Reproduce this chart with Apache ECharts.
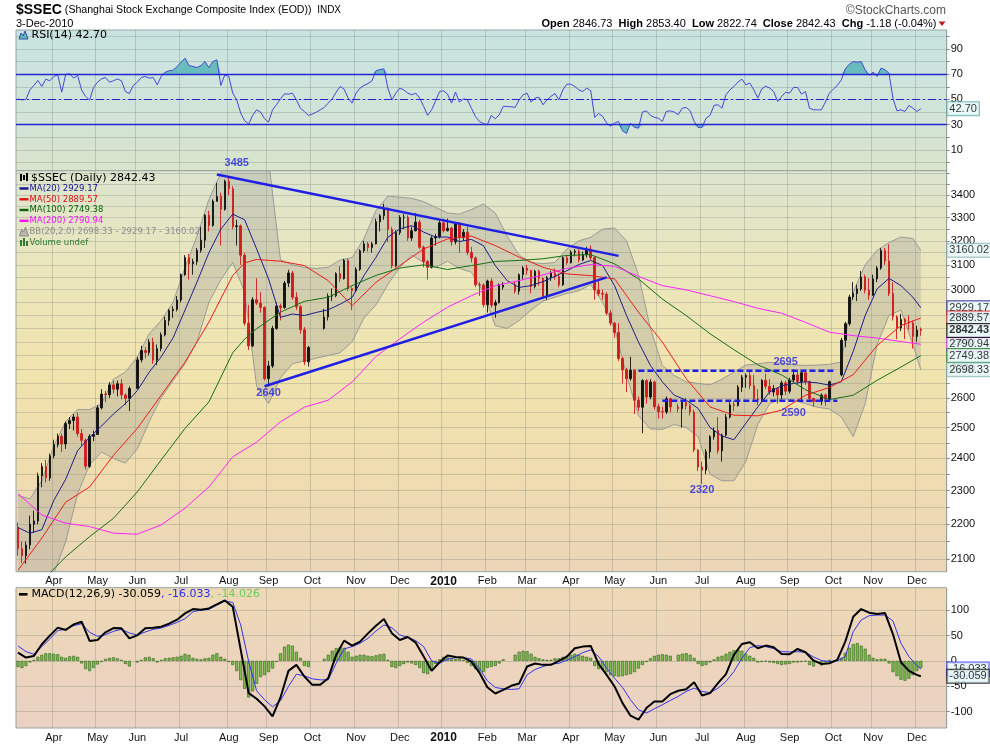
<!DOCTYPE html>
<html>
<head>
<meta charset="utf-8">
<title>$SSEC</title>
<script src="https://cdn.jsdelivr.net/npm/echarts@6/dist/echarts.min.js"></script>
<style>
  html, body { margin: 0; padding: 0; background: #fff; }
  #chart { width: 990px; height: 744px; }
</style>
</head>
<body>
<div id="chart"></div>
<script>
// x axis: one slot = two weekdays, Mar 9 2009 .. Dec 3 2010 (+ blank slots on the right)
const binCount = 234;
const monthBins = [9, 20, 30, 41, 53, 63, 74, 85, 96, 107, 118, 128, 139, 150, 161, 172, 183, 194, 205, 215, 226];
const monthNames = ["Apr", "May", "Jun", "Jul", "Aug", "Sep", "Oct", "Nov", "Dec", "2010", "Feb", "Mar", "Apr", "May", "Jun", "Jul", "Aug", "Sep", "Oct", "Nov", "Dec"];

const priceTicks = [2100, 2200, 2300, 2400, 2500, 2600, 2700, 2800, 2900, 3000, 3100, 3200, 3300, 3400];
const priceGridLines = [2100, 2150, 2200, 2250, 2300, 2350, 2400, 2450, 2500, 2550, 2600, 2650, 2700, 2750, 2800, 2850, 2900, 2950, 3000, 3050, 3100, 3150, 3200, 3250, 3300, 3350, 3400, 3450, 3500];
const rsiTicks = [10, 30, 50, 70, 90];
const rsiGridLines = [0, 10, 20, 30, 40, 50, 60, 70, 80, 90, 100];
const macdTicks = [-100, -50, 0, 50, 100];

// [open, close, low, high], null = holiday slot
const candles = [
  [2190,2130,2110,2205],[2130,2110,2090,2150],[2110,2140,2088,2150],[2140,2200,2128,2225],[2200,2209,2175,2240],
  [2209,2345,2200,2355],[2345,2374,2310,2385],[2374,2339,2325,2395],[2339,2408,2330,2415],[2408,2444,2400,2460],
  [2444,2471,2435,2480],[2471,2446,2420,2480],[2446,2513,2430,2520],[2513,2523,2495,2535],[2523,2535,2490,2545],
  [2535,2480,2470,2550],[2480,2458,2440,2495],[2458,2375,2365,2465],[2375,2471,2370,2478],[2471,2477,2455,2490],
  [2477,2566,2477,2575],[2566,2613,2560,2630],[2613,2611,2585,2625],[2611,2645,2600,2655],[2645,2630,2615,2660],
  [2630,2649,2605,2660],[2649,2610,2595,2665],[2610,2598,2575,2615],[2598,2632,2555,2640],null,
  [2632,2734,2632,2745],[2734,2768,2725,2785],[2768,2761,2740,2780],[2761,2799,2750,2810],[2799,2733,2720,2815],
  [2733,2775,2715,2790],[2775,2826,2765,2835],[2826,2880,2820,2895],[2880,2918,2860,2925],[2918,2923,2890,2935],
  [2923,2959,2915,2975],[2959,3060,2950,3065],[3060,3130,3055,3140],[3130,3104,3040,3145],[3104,3113,3060,3125],
  [3113,3160,3100,3170],[3160,3203,3150,3260],[3203,3310,3170,3315],[3310,3266,3240,3330],[3266,3372,3260,3380],
  [3372,3393,3370,3455],[3393,3337,3180,3410],[3337,3462,3330,3470],[3462,3428,3400,3485],[3428,3261,3250,3440],
  [3261,3264,3180,3290],[3264,3140,3100,3270],[3140,2870,2860,3150],[2870,2785,2770,2940],[2785,2960,2780,2970],
  [2960,2947,2940,3045],[2947,2930,2910,2990],[2930,2667,2660,2935],[2667,2712,2639,2730],[2712,2850,2705,2860],
  [2850,2936,2845,2950],[2936,2930,2880,2945],[2930,3026,2925,3035],[3026,3067,3010,3080],[3067,2970,2960,3075],
  [2970,2933,2920,2990],[2933,2845,2830,2940],[2845,2727,2715,2855],[2727,2779,2710,2785],null,
  null,null,[2850,2893,2845,2925],[2893,2975,2880,2985],[2975,2976,2955,3005],
  [2976,3064,2970,3070],[3064,3044,3030,3095],[3044,3118,3040,3125],[3118,3004,2995,3125],[3004,2996,2920,3010],
  [2996,3082,2990,3090],[3082,3158,3075,3165],[3158,3187,3150,3200],[3187,3172,3155,3195],[3172,3187,3150,3195],
  [3187,3282,3185,3295],[3282,3308,3240,3315],[3308,3338,3290,3361],[3338,3249,3195,3345],[3249,3096,3085,3260],
  [3096,3235,3090,3245],[3235,3300,3225,3310],[3300,3301,3250,3315],[3301,3212,3200,3310],[3212,3243,3200,3260],
  [3243,3280,3240,3320],[3280,3173,3165,3290],[3173,3114,3090,3180],[3114,3090,3040,3120],[3090,3212,3085,3220],
  [3212,3218,3180,3230],[3218,3277,3210,3285],[3277,3243,3235,3295],[3243,3254,3240,3295],[3254,3196,3180,3260],
  [3196,3273,3185,3280],[3273,3215,3150,3280],[3215,3237,3200,3250],[3237,3151,3140,3260],[3151,3128,3110,3175],
  [3128,3019,3010,3135],[3019,3018,2975,3030],[3018,2941,2930,3025],[2941,3034,2910,3040],[3034,2939,2930,3045],
  [2939,2949,2890,2960],[2949,3018,2945,3025],[3010,3018,3000,3030],null,null,
  [3018,2994,2985,3035],[2994,3060,2980,3065],[3060,3087,3040,3095],[3087,3077,3060,3100],[3077,3013,2985,3080],
  [3013,3074,3005,3080],[3074,3045,3015,3080],[3045,2974,2965,3050],[2974,3048,2960,3055],[3048,3067,3035,3075],
  [3067,3052,3040,3085],[3052,3019,3010,3065],[3019,3129,3015,3135],[3129,3109,3100,3140],[3109,3152,3105,3160],
  [3152,3156,3135,3165],[3156,3120,3110,3165],[3120,3143,3115,3155],[3143,3165,3130,3175],[3165,3130,3120,3181],
  [3130,2999,2960,3135],[2999,2985,2975,3035],[2985,2982,2960,3000],[2982,2909,2900,2990],[2909,2870,2860,2920],
  [2870,2835,2815,2875],[2835,2739,2730,2870],[2739,2698,2650,2745],[2698,2667,2620,2705],[2667,2697,2660,2745],
  [2697,2592,2545,2700],[2592,2568,2555,2605],[2568,2660,2481,2665],[2660,2603,2580,2665],[2603,2655,2595,2665],
  [2655,2570,2560,2660],[2570,2553,2530,2580],[2553,2552,2530,2570],[2552,2597,2545,2605],[2597,2569,2550,2600],
  null,[2569,2563,2550,2580],[2563,2584,2500,2590],[2584,2573,2560,2600],[2573,2552,2540,2580],
  [2552,2427,2420,2560],[2427,2373,2360,2430],[2373,2363,2319,2390],[2363,2421,2350,2430],[2421,2470,2400,2475],
  [2470,2490,2460,2500],[2490,2424,2415,2535],[2424,2475,2390,2480],[2475,2535,2470,2545],[2535,2576,2530,2585],
  [2576,2574,2555,2590],[2574,2637,2570,2645],[2637,2672,2620,2680],[2672,2678,2635,2685],[2678,2642,2630,2690],
  [2642,2597,2590,2680],[2597,2594,2575,2630],[2594,2661,2585,2665],[2661,2640,2630,2685],[2640,2620,2610,2665],
  [2620,2632,2605,2645],[2632,2610,2580,2635],[2610,2652,2595,2660],[2652,2623,2610,2660],[2623,2662,2615,2670],
  [2662,2680,2655,2700],[2680,2657,2645,2698],[2657,2688,2590,2695],[2688,2656,2645,2700],[2656,2598,2585,2660],
  [2598,2588,2570,2600],null,[2588,2610,2575,2615],[2610,2596,2573,2615],[2596,2656,2590,2660],
  null,null,[2680,2806,2675,2815],[2806,2868,2780,2875],[2868,2971,2860,2980],
  [2971,2985,2960,3030],[2985,3003,2955,3020],[3003,3051,2995,3075],[3051,2998,2985,3060],[2998,2978,2960,3045],
  [2978,3043,2975,3060],[3043,3087,3030,3095],[3087,3159,3080,3170],[3159,3116,3100,3170],[3116,2985,2975,3186],
  [2985,2894,2880,3030],[2894,2852,2810,2900],[2852,2884,2840,2905],[2884,2875,2810,2890],[2875,2871,2845,2900],
  [2871,2820,2775,2880],[2820,2844,2800,2860],[2846.73,2842.43,2822.74,2853.40]
];

// overlays: [slot, value]
const ma20 = [[0,2190],[3,2174],[6,2184],[9,2270],[12,2335],[15,2425],[18,2468],[21,2505],[24,2545],[27,2580],[30,2625],[33,2690],[36,2745],[39,2815],[42,2920],[45,3030],[48,3150],[51,3250],[54,3315],[57,3290],[60,3166],[63,3043],[66,2892],[69,2905],[72,2899],[75,2911],[78,2921],[81,2943],[84,2969],[87,3057],[90,3131],[93,3215],[96,3251],[99,3265],[102,3237],[105,3216],[108,3216],[111,3197],[114,3206],[117,3180],[120,3097],[123,3036],[126,3009],[129,3016],[132,3032],[135,3053],[138,3076],[141,3101],[144,3118],[147,3097],[150,3016],[153,2899],[156,2799],[159,2714],[162,2656],[165,2609],[168,2592],[171,2564],[174,2500],[177,2472],[180,2460],[183,2514],[186,2569],[189,2621],[192,2642],[195,2650],[198,2656],[201,2652],[204,2644],[207,2656],[210,2765],[213,2899],[216,3003],[219,3045],[222,3016],[225,2970],[227,2929.17]];
const bbUpper = [[0,2285],[3,2275],[6,2330],[9,2440],[12,2520],[15,2560],[18,2560],[21,2580],[24,2665],[27,2690],[30,2745],[33,2830],[36,2880],[39,2950],[42,3090],[45,3220],[48,3380],[51,3500],[54,3600],[57,3620],[60,3700],[63,3560],[66,3120],[69,3100],[72,3090],[75,3085],[78,3090],[81,3120],[84,3130],[87,3210],[90,3330],[93,3395],[96,3390],[99,3385],[102,3370],[105,3345],[108,3320],[111,3315],[114,3335],[117,3360],[120,3320],[123,3220],[126,3140],[129,3110],[132,3105],[135,3110],[138,3165],[141,3200],[144,3215],[147,3250],[150,3255],[153,3200],[156,3060],[159,2850],[162,2714],[165,2678],[168,2656],[171,2650],[174,2645],[177,2665],[180,2690],[183,2715],[186,2720],[189,2725],[192,2722],[195,2716],[198,2714],[201,2715],[204,2718],[207,2726],[210,2990],[213,3100],[216,3160],[219,3193],[222,3216],[225,3210],[227,3160.02]];
const bbLower = [[0,2050],[3,2050],[6,2040],[9,2060],[12,2150],[15,2290],[18,2380],[21,2420],[24,2400],[27,2385],[30,2430],[33,2520],[36,2600],[39,2660],[42,2720],[45,2800],[48,2950],[51,3040],[54,3110],[57,2990],[60,2640],[63,2580],[66,2670],[69,2720],[72,2730],[75,2740],[78,2750],[81,2760],[84,2800],[87,2890],[90,2940],[93,3020],[96,3090],[99,3140],[102,3110],[105,3090],[108,3115],[111,3085],[114,3070],[117,2990],[120,2860],[123,2850],[126,2880],[129,2920],[132,2955],[135,2970],[138,2985],[141,2995],[144,3020],[147,2950],[150,2850],[153,2680],[156,2540],[159,2495],[162,2494],[165,2510],[168,2500],[171,2470],[174,2350],[177,2330],[180,2330],[183,2390],[186,2510],[189,2580],[192,2597],[195,2593],[198,2580],[201,2568],[204,2562],[207,2535],[210,2470],[213,2580],[216,2790],[219,2900],[222,2920],[225,2790],[227,2698.33]];
const ma50 = [[0,2070],[6,2160],[12,2265],[18,2311],[24,2410],[30,2497],[36,2609],[42,2726],[48,2874],[54,3057],[57,3108],[60,3122],[66,3115],[72,3097],[78,3036],[84,2937],[90,3029],[96,3097],[102,3166],[108,3208],[114,3220],[120,3180],[126,3132],[132,3090],[138,3063],[144,3056],[150,3043],[156,2912],[162,2799],[168,2667],[174,2569],[180,2541],[186,2539],[192,2558],[198,2609],[204,2636],[210,2681],[216,2786],[222,2861],[227,2889.57]];
const ma100 = [[0,1930],[6,2040],[12,2107],[18,2164],[24,2217],[30,2296],[36,2395],[42,2497],[48,2586],[54,2760],[57,2810],[60,2849],[66,2912],[72,2954],[78,2970],[84,3016],[90,3057],[96,3087],[102,3100],[108,3081],[114,3097],[120,3114],[126,3118],[132,3125],[138,3139],[144,3142],[150,3104],[156,3043],[162,2963],[168,2899],[174,2830],[180,2771],[186,2716],[192,2680],[198,2628],[204,2594],[210,2609],[216,2661],[222,2708],[227,2749.38]];
const ma200 = [[0,2291],[6,2227],[12,2203],[18,2193],[24,2174],[30,2171],[36,2198],[42,2247],[48,2311],[54,2405],[60,2452],[66,2519],[72,2568],[78,2592],[84,2655],[90,2746],[96,2811],[102,2874],[108,2931],[114,2976],[120,3016],[126,3036],[132,3059],[138,3086],[144,3101],[150,3094],[156,3053],[162,3016],[168,2999],[174,2976],[180,2953],[186,2927],[192,2908],[198,2873],[204,2836],[210,2823],[216,2814],[222,2801],[227,2790.94]];

const rsi = [
  50.3,49.7,50.0,57.6,61.1,65.0,60.3,66.1,64.8,68.2,
  69.5,55.8,70.0,70.3,66.9,69.0,57.4,52.4,49.5,59.5,
  63.7,66.3,67.4,63.7,64.8,66.3,64.8,56.3,54.7,61.1,
  63.7,67.4,68.2,66.9,67.4,61.6,68.2,71.6,72.7,73.2,
  76.1,79.5,82.7,76.9,76.1,75.3,76.9,80.0,75.3,80.0,
  81.4,61.1,69.5,68.2,55.0,49.7,39.2,33.1,30.5,37.4,
  41.8,40.0,34.7,32.1,41.8,45.8,50.5,54.5,54.2,55.0,
  49.7,43.1,40.5,37.4,38.4,40.0,41.8,43.7,47.1,50.5,
  55.8,60.3,58.2,51.1,47.1,55.0,59.0,61.1,62.6,64.8,
  72.7,73.7,74.2,59.0,49.7,55.0,59.0,57.6,55.0,53.7,
  55.0,51.1,44.5,37.4,41.8,48.9,56.3,56.9,54.2,47.1,
  55.8,47.9,50.5,49.7,43.1,36.6,32.6,31.0,30.0,37.4,
  34.7,37.9,44.5,44.5,44.2,43.7,49.7,53.7,55.0,47.9,
  51.1,51.8,45.8,49.7,52.4,54.7,49.7,57.6,62.1,62.1,
  60.3,57.6,56.3,59.0,56.9,35.8,38.9,36.6,31.3,28.9,
  31.3,32.6,25.2,23.1,31.3,27.9,27.3,40.0,41.0,37.4,
  35.8,35.2,32.6,40.5,41.0,40.0,37.9,43.1,43.7,41.0,
  32.6,27.9,27.9,35.2,37.4,45.3,45.8,43.1,53.7,57.6,
  60.3,63.7,66.1,61.6,63.0,57.6,51.1,58.4,60.5,59.0,
  56.3,48.4,52.4,55.8,55.0,59.5,59.5,54.2,56.3,43.1,
  41.8,41.8,41.8,47.9,55.0,58.2,61.1,65.5,74.2,77.9,
  80.0,79.5,80.0,73.5,69.0,71.6,68.2,74.8,73.5,70.8,
  50.5,41.0,41.8,40.5,45.3,43.1,40.5,42.70
];

const macdLine = [[0,16.3],[2,6.5],[4,9.8],[6,32.7],[8,49.7],[10,65.4],[12,60.8],[14,71.9],[16,77.1],[18,39.2],[20,41.2],[22,56.2],[24,64.7],[26,64.1],[28,44.4],[30,50.3],[32,64.1],[34,65.4],[36,67.3],[38,73.2],[40,81.0],[42,93.5],[44,102.0],[46,100.7],[48,103.3],[50,111.1],[52,119.0],[54,106.5],[56,21.6],[58,-63.4],[60,-74.5],[62,-89.5],[64,-109.2],[66,-71.9],[68,-19.6],[70,-7.8],[72,-30.7],[74,-47.1],[76,-47.1],[78,-34.0],[80,11.8],[82,39.9],[84,30.1],[86,37.9],[88,54.2],[90,69.3],[92,82.4],[94,54.2],[96,41.2],[98,47.1],[100,35.9],[102,8.5],[104,-19.6],[106,-2.6],[108,10.5],[110,7.8],[112,6.5],[114,-1.3],[116,-23.0],[118,-52.0],[120,-64.1],[122,-56.9],[124,-49.0],[126,-44.4],[128,-11.1],[130,-5.2],[132,-7.8],[134,-7.8],[136,0],[138,8.5],[140,24.8],[142,28.1],[144,29.4],[146,-6.5],[148,-27.5],[150,-50.3],[152,-83.0],[154,-107.8],[156,-115.7],[158,-92.8],[160,-79.7],[162,-79.7],[164,-65.4],[166,-58.8],[168,-55.6],[170,-41.8],[172,-68.0],[174,-63.4],[176,-43.8],[178,-26.1],[180,11.8],[182,33.3],[184,36.6],[186,24.8],[188,30.1],[190,26.8],[192,13.7],[194,13.1],[196,23.5],[198,17.0],[200,0.7],[202,-5.9],[204,-4.6],[206,2.0],[208,37.9],[210,86.9],[212,102.0],[214,94.8],[216,92.2],[218,94.1],[220,52.3],[222,-2.6],[224,-19.6],[226,-27.5],[227,-30.059]];
const macdSignal = [[0,29.4],[2,18.3],[4,13.1],[6,28.1],[8,43.1],[10,59.5],[12,62.7],[14,69.3],[16,73.2],[18,56.2],[20,48.4],[22,51.6],[24,58.2],[26,62.1],[28,54.9],[30,51.0],[32,56.9],[34,62.1],[36,64.7],[38,69.9],[40,75.8],[42,83.0],[44,96.7],[46,100.0],[48,101.3],[50,109.8],[52,117.6],[54,115.0],[56,70.6],[58,-1.3],[60,-58.8],[62,-76.5],[64,-90.2],[66,-78.4],[68,-50.3],[70,-26.1],[72,-29.4],[74,-35.3],[76,-37.3],[78,-37.3],[80,-4.6],[82,23.5],[84,28.1],[86,34.6],[88,44.4],[90,58.8],[92,70.6],[94,65.4],[96,51.0],[98,46.4],[100,39.9],[102,28.1],[104,0],[106,-4.6],[108,3.3],[110,6.5],[112,6.5],[114,3.9],[116,-15.0],[118,-39.2],[120,-52.3],[122,-54.9],[124,-56.2],[126,-54.9],[128,-27.5],[130,-17.0],[132,-11.1],[134,-6.5],[136,-4.6],[138,1.3],[140,8.5],[142,16.3],[144,21.6],[146,8.5],[148,-14.4],[150,-34.0],[152,-52.3],[154,-76.5],[156,-96.1],[158,-102.6],[160,-94.1],[162,-86.3],[164,-77.8],[166,-69.9],[168,-60.1],[170,-53.6],[172,-60.1],[174,-62.7],[176,-53.6],[178,-40.5],[180,-20.9],[182,5.2],[184,26.1],[186,30.1],[188,28.1],[190,24.2],[192,18.3],[194,17.6],[196,18.3],[198,17.0],[200,7.8],[202,0.7],[204,-1.3],[206,0],[208,8.5],[210,57.5],[212,80.4],[214,88.9],[216,90.2],[218,90.2],[220,78.4],[222,34.6],[224,8.5],[226,-9.2],[227,-16.033]];
const macdHist = [
  -12,-14,-10,-3,2,8,12,15,15,14,
  13,8,6,9,10,8,-5,-16,-20,-14,
  -7,-2,4,6,7,5,2,-6,-11,null,
  -3,2,7,8,5,-3,2,5,6,7,
  8,10,14,12,6,4,3,5,6,12,
  15,8,4,-2,-8,-20,-38,-55,-72,-60,
  -45,-32,-28,-22,-15,-2,15,28,32,30,
  18,6,-10,-12,null,null,null,4,12,20,
  25,27,26,18,8,10,12,12,10,9,
  11,13,14,2,-12,-14,-10,-6,-3,-5,
  -8,-14,-24,-26,-16,-6,3,8,7,3,
  4,5,2,-4,-10,-16,-20,-22,-14,-12,
  -10,-5,3,null,null,12,18,20,19,14,
  8,5,3,2,2,5,5,8,10,12,
  14,12,10,8,6,-10,-16,-18,-22,-28,
  -30,-31,-30,-28,-26,-22,-15,-8,-2,5,
  10,12,13,12,10,null,12,14,15,12,
  6,-6,-10,-8,-3,3,8,10,14,18,
  21,22,20,14,10,6,-3,-2,-1,-3,
  -4,-6,-8,-7,-6,-3,-3,-2,-1,-8,
  -11,null,-9,-2,2,null,null,6,16,26,
  33,35,30,24,12,6,3,4,4,-5,
  -22,-30,-37,-39,-35,-28,-20,-14.026
];

// hand-drawn chart annotations: [slot, price]
const resistanceLine = [[50,3493],[151,3137]];
const supportLine = [[62,2640],[148,3049]];
const rangeTop = [[156,2695],[205,2695]];
const rangeBottom = [[162,2590],[206,2590]];
const notes = [
  { at: [55, 3485], text: "3485", pos: "top", dist: 7 },
  { at: [63, 2640], text: "2640", pos: "bottom", dist: 1 },
  { at: [172, 2320], text: "2320", pos: "bottom", dist: 0 },
  { at: [193, 2695], text: "2695", pos: "top", dist: 3 },
  { at: [195, 2590], text: "2590", pos: "bottom", dist: 6 }
];

function drawChart() {
  const chart = echarts.init(document.getElementById("chart"));

  const labels = Array.from({ length: binCount }, () => "");
  monthBins.forEach((b, i) => { labels[b] = monthNames[i]; });
  const isMonth = (i) => labels[i] !== "";
  const lastBin = candles.length - 1;
  const last = (arr) => arr[arr.length - 1][1];
  const f2 = (v) => v.toFixed(2);

  const gridLineStyle = { color: "rgba(120,135,125,0.32)", width: 1 };
  const tickFont = { fontSize: 11, fontFamily: "Liberation Sans", color: "#111" };

  const grad = (stops) => new echarts.graphic.LinearGradient(0, 0, 0, 1,
    stops.map((c, i) => ({ offset: i / (stops.length - 1), color: c })));

  const makeX = (gridIndex, showLabels) => ({
    type: "category", gridIndex, data: labels, boundaryGap: true,
    axisLine: { show: false }, axisTick: { show: false },
    axisLabel: {
      show: showLabels, interval: isMonth, margin: 4, ...tickFont,
      formatter: (v) => (v === "2010" ? "{y|2010}" : v),
      rich: { y: { fontWeight: "bold", fontSize: 12, fontFamily: "Liberation Sans", color: "#111" } }
    },
    splitLine: { show: true, interval: isMonth, lineStyle: gridLineStyle }
  });

  const boxLabel = {
    show: true, position: "right", distance: 26,
    backgroundColor: "#e6f6f6", borderWidth: 1, padding: [1, 2, 0, 2],
    fontSize: 11, fontFamily: "Liberation Sans", color: "#000", lineHeight: 12
  };

  const priceBoxes = [
    { v: last(bbUpper), c: "#7fb0b0" },
    { v: last(ma20), c: "#1c1c8a" },
    { v: last(ma50), c: "#e02020" },
    { v: last(ma200), c: "#ff22ff" },
    { v: last(ma100), c: "#1a7a1a" },
    { v: last(bbLower), c: "#7fb0b0" },
    { v: candles[lastBin][1], c: "#000", bold: true }
  ];

  const candleData = candles.map((c) => (c === null ? ["-", "-", "-", "-"] : c));
  const histData = macdHist.map((v) => (v === null ? "-" : v));
  const bbRange = bbUpper.map((p, i) => [p[0], p[1] - bbLower[i][1]]);

  const maLine = (name, data, color) => ({
    name, type: "line", xAxisIndex: 1, yAxisIndex: 1, data, symbol: "none",
    lineStyle: { color, width: 1 }, z: 4, silent: true
  });
  const trend = (data, dashed) => ({
    type: "line", xAxisIndex: 1, yAxisIndex: 1, data, symbol: "none", silent: true, z: 6,
    lineStyle: { color: "#1f1fe6", width: 2.5, type: dashed ? [6, 3] : "solid" }
  });

  const legendY = [177.7, 188.5, 199.3, 210, 220.8, 232, 242.7];
  const bigFont = '11px "DejaVu Sans"';
  const smallFont = '8.5px "DejaVu Sans"';
  const legendRows = [
    { t: `$SSEC (Daily) ${f2(candles[lastBin][1])}`, c: "#000", big: true },
    { t: `MA(20) ${f2(last(ma20))}`, c: "#14148c", dash: true },
    { t: `MA(50) ${f2(last(ma50))}`, c: "#e01010", dash: true },
    { t: `MA(100) ${f2(last(ma100))}`, c: "#0a620a", dash: true },
    { t: `MA(200) ${f2(last(ma200))}`, c: "#ff10ff", dash: true },
    { t: `BB(20,2.0) ${f2(last(bbLower))} - ${f2(last(ma20))} - ${f2(last(bbUpper))}`, c: "#8a9090" },
    { t: "Volume undef", c: "#2a7a2a" }
  ];
  const graphics = [];
  legendRows.forEach((r, i) => {
    graphics.push({ type: "text", x: r.big ? 31 : 29.5, y: legendY[i], style: { text: r.t, fill: r.c, font: r.big ? bigFont : smallFont, verticalAlign: "middle" } });
    if (r.dash) graphics.push({ type: "rect", shape: { x: 19.5, y: legendY[i] - 1.2, width: 9, height: 2.4 }, style: { fill: r.c } });
  });
  // legend icons
  graphics.push(
    { type: "rect", shape: { x: 20, y: 174, width: 2, height: 7 }, style: { fill: "#000" } },
    { type: "rect", shape: { x: 23, y: 175, width: 2, height: 5 }, style: { fill: "#000" } },
    { type: "rect", shape: { x: 26, y: 173, width: 2, height: 8 }, style: { fill: "#000" } },
    { type: "polygon", shape: { points: [[19.5, 236], [21.5, 229], [23.5, 232], [25.5, 227], [28.5, 236]] }, style: { fill: "#b8b8b0", stroke: "#8c8c8c", lineWidth: 1 } },
    { type: "rect", shape: { x: 20, y: 240, width: 2, height: 6 }, style: { fill: "#2a7a2a" } },
    { type: "rect", shape: { x: 23, y: 238, width: 2, height: 8 }, style: { fill: "#2a7a2a" } },
    { type: "rect", shape: { x: 26, y: 241, width: 2, height: 5 }, style: { fill: "#2a7a2a" } },
    { type: "polygon", shape: { points: [[19, 39], [21, 33], [23, 36], [25, 31], [28, 39]] }, style: { fill: "#62b8b8", stroke: "#3a4ab0", lineWidth: 1 } },
    { type: "text", x: 31.5, y: 35.3, style: { text: `RSI(14) ${rsi[rsi.length - 1].toFixed(2)}`, fill: "#000", font: bigFont, verticalAlign: "middle" } },
    { type: "rect", shape: { x: 19, y: 593, width: 8.5, height: 2.6 }, style: { fill: "#000" } },
    {
      type: "text", x: 31.5, y: 594.3,
      style: {
        text: `{a|MACD(12,26,9) ${last(macdLine).toFixed(3)}}{b|, ${last(macdSignal).toFixed(3)}}{c|, ${macdHist[lastBin].toFixed(3)}}`,
        verticalAlign: "middle",
        rich: {
          a: { fill: "#000", fontSize: 11, fontFamily: "DejaVu Sans" },
          b: { fill: "#2a2aee", fontSize: 11, fontFamily: "DejaVu Sans" },
          c: { fill: "#6ccc5a", fontSize: 11, fontFamily: "DejaVu Sans" }
        }
      }
    },
    // header
    {
      type: "text", x: 16, y: 10.5,
      style: {
        text: "{a|$SSEC}{b| (Shanghai Stock Exchange Composite Index (EOD))}{c|  INDX}",
        verticalAlign: "middle",
        rich: {
          a: { fill: "#000", fontSize: 14, fontWeight: "bold", fontFamily: "Liberation Sans" },
          b: { fill: "#000", fontSize: 10.6, fontFamily: "Liberation Sans" },
          c: { fill: "#000", fontSize: 10, fontFamily: "Liberation Sans" }
        }
      }
    },
    { type: "text", x: 16, y: 23.5, style: { text: "3-Dec-2010", fill: "#000", font: '11px "Liberation Sans"', verticalAlign: "middle" } },
    { type: "text", x: 946, y: 10.5, style: { text: "\u00A9StockCharts.com", fill: "#555", font: '12px "Liberation Sans"', align: "right", verticalAlign: "middle" } },
    {
      type: "text", x: 936.5, y: 23.5,
      style: {
        text: "{l|Open} 2846.73  {l|High} 2853.40  {l|Low} 2822.74  {l|Close} 2842.43  {l|Chg} -1.18 (-0.04%)",
        align: "right", verticalAlign: "middle", fill: "#000", font: '11px "Liberation Sans"',
        rich: { l: { fill: "#000", fontSize: 11, fontWeight: "bold", fontFamily: "Liberation Sans" } }
      }
    },
    { type: "polygon", shape: { points: [[938.5, 21.5], [945.5, 21.5], [942, 26]] }, style: { fill: "#b81c1c" } }
  );
  graphics.forEach((g) => { g.z = 100; g.silent = true; });

  const option = {
    animation: false,
    backgroundColor: "#fff",
    grid: [
      { left: 16, right: 43.3, top: 30, height: 140.7, show: true, borderColor: "#98a4a4", borderWidth: 1,
        backgroundColor: grad(["#c8e4e1", "#d0e4da", "#d9e5cc"]) },
      { left: 16, right: 43.3, top: 170.7, height: 401, show: true, borderColor: "#98a4a4", borderWidth: 1,
        backgroundColor: grad(["#dce5cf", "#ebe6bc", "#f1e4ae", "#efdcaf", "#ebd6b8"]) },
      { left: 16, right: 43.3, top: 587.7, height: 140.5, show: true, borderColor: "#98a4a4", borderWidth: 1,
        backgroundColor: grad(["#eed9b6", "#ecd5bc", "#ead1c4"]) }
    ],
    xAxis: [makeX(0, false), makeX(1, true), makeX(2, true)],
    yAxis: [
      { type: "value", gridIndex: 0, position: "right", min: -6.4, max: 105,
        axisLine: { show: false },
        axisTick: { show: true, length: 3, customValues: rsiGridLines, lineStyle: { color: "#888" } },
        axisLabel: { customValues: rsiTicks, margin: 4, ...tickFont },
        splitLine: { show: true, lineStyle: gridLineStyle } },
      { type: "log", logBase: 10, gridIndex: 1, position: "right", min: 2066, max: 3511,
        axisLine: { show: false },
        axisTick: { show: true, length: 3, customValues: priceGridLines, lineStyle: { color: "#888" } },
        axisLabel: { customValues: priceTicks, margin: 4, ...tickFont, formatter: (v) => String(Math.round(v)) },
        splitLine: { show: true, lineStyle: gridLineStyle } },
      { type: "value", gridIndex: 2, position: "right", min: -132, max: 144,
        axisLine: { show: false },
        axisTick: { show: true, length: 3, customValues: macdTicks, lineStyle: { color: "#888" } },
        axisLabel: { customValues: macdTicks, margin: 4, ...tickFont },
        splitLine: { show: true, lineStyle: gridLineStyle } }
    ],
    graphic: graphics,
    series: [
      // RSI panel
      { type: "line", xAxisIndex: 0, yAxisIndex: 0, data: rsi.map((v) => Math.max(v, 70)), symbol: "none", silent: true,
        lineStyle: { width: 0, opacity: 0 }, areaStyle: { origin: 70, color: "#68bcbc", opacity: 1 }, z: 2 },
      { type: "line", xAxisIndex: 0, yAxisIndex: 0, data: rsi.map((v) => Math.min(v, 30)), symbol: "none", silent: true,
        lineStyle: { width: 0, opacity: 0 }, areaStyle: { origin: 30, color: "#68bcbc", opacity: 1 }, z: 2 },
      { name: "RSI(14)", type: "line", xAxisIndex: 0, yAxisIndex: 0, data: rsi, symbol: "none", silent: true, z: 4,
        lineStyle: { color: "#4646d6", width: 1 },
        markLine: {
          silent: true, symbol: ["none", "none"], label: { show: false },
          data: [
            { yAxis: 70, lineStyle: { color: "#2424d4", width: 1.3, type: "solid" } },
            { yAxis: 30, lineStyle: { color: "#2424d4", width: 1.3, type: "solid" } },
            { yAxis: 50, lineStyle: { color: "#2424d4", width: 1, type: [8, 3, 2, 3] } }
          ]
        } },
      { type: "scatter", xAxisIndex: 0, yAxisIndex: 0, clip: false, silent: true, symbolSize: 1, z: 10,
        itemStyle: { color: "rgba(0,0,0,0)" },
        data: [{ value: [lastBin, rsi[rsi.length - 1]] }],
        label: { ...boxLabel, borderColor: "#5aa8a8", formatter: (p) => f2(p.value[1]) } },

      // price panel
      { name: "BB low", type: "line", xAxisIndex: 1, yAxisIndex: 1, data: bbLower, stack: "bb", symbol: "none", silent: true,
        lineStyle: { color: "#9a9a96", width: 1 }, z: 1 },
      { name: "BB band", type: "line", xAxisIndex: 1, yAxisIndex: 1, data: bbRange, stack: "bb", symbol: "none", silent: true,
        lineStyle: { color: "#9a9a96", width: 1 }, areaStyle: { color: "rgba(150,150,146,0.42)" }, z: 1 },
      { name: "$SSEC", type: "candlestick", xAxisIndex: 1, yAxisIndex: 1, data: candleData, barWidth: 2, silent: true, z: 3,
        itemStyle: { color: "#111", color0: "#d01c1c", borderColor: "#111", borderColor0: "#d01c1c", borderWidth: 0.9 } },
      maLine("MA(20)", ma20, "#1c1c8a"),
      maLine("MA(50)", ma50, "#ee1c1c"),
      maLine("MA(100)", ma100, "#167016"),
      maLine("MA(200)", ma200, "#ff22ff"),
      trend(resistanceLine, false),
      trend(supportLine, false),
      trend(rangeTop, true),
      trend(rangeBottom, true),
      { type: "scatter", xAxisIndex: 1, yAxisIndex: 1, clip: false, silent: true, symbolSize: 1, z: 8,
        itemStyle: { color: "rgba(0,0,0,0)" },
        data: notes.map((n) => ({ value: n.at, name: n.text, label: { position: n.pos, distance: n.dist } })),
        label: { show: true, formatter: (p) => p.name, color: "#1f1fe6", fontSize: 11, fontWeight: "bold", fontFamily: "Liberation Sans" } },
      { type: "scatter", xAxisIndex: 1, yAxisIndex: 1, clip: false, silent: true, symbolSize: 1, z: 10,
        itemStyle: { color: "rgba(0,0,0,0)" },
        data: priceBoxes.map((b) => ({ value: [lastBin, b.v], label: { borderColor: b.c, fontWeight: b.bold ? "bold" : "normal" } })),
        label: { ...boxLabel, formatter: (p) => f2(p.value[1]) } },

      // MACD panel
      { type: "bar", xAxisIndex: 2, yAxisIndex: 2, data: histData, barWidth: 3, silent: true, z: 2,
        itemStyle: { color: "#7dbd4f", borderColor: "#2f5f1a", borderWidth: 0.6 } },
      { name: "Signal", type: "line", xAxisIndex: 2, yAxisIndex: 2, data: macdSignal, symbol: "none", silent: true, z: 4,
        lineStyle: { color: "#3333ee", width: 1 } },
      { name: "MACD", type: "line", xAxisIndex: 2, yAxisIndex: 2, data: macdLine, symbol: "none", silent: true, z: 5,
        lineStyle: { color: "#000", width: 2 } },
      { type: "scatter", xAxisIndex: 2, yAxisIndex: 2, clip: false, silent: true, symbolSize: 1, z: 10,
        itemStyle: { color: "rgba(0,0,0,0)" },
        data: [
          { value: [lastBin, last(macdSignal)], label: { borderColor: "#2a2aee" } },
          { value: [lastBin, last(macdLine)], label: { borderColor: "#000" } }
        ],
        label: { ...boxLabel, formatter: (p) => p.value[1].toFixed(3) } }
    ]
  };

  chart.setOption(option);
  window.addEventListener("resize", () => chart.resize());
}

document.addEventListener("DOMContentLoaded", drawChart);
</script>
</body>
</html>
